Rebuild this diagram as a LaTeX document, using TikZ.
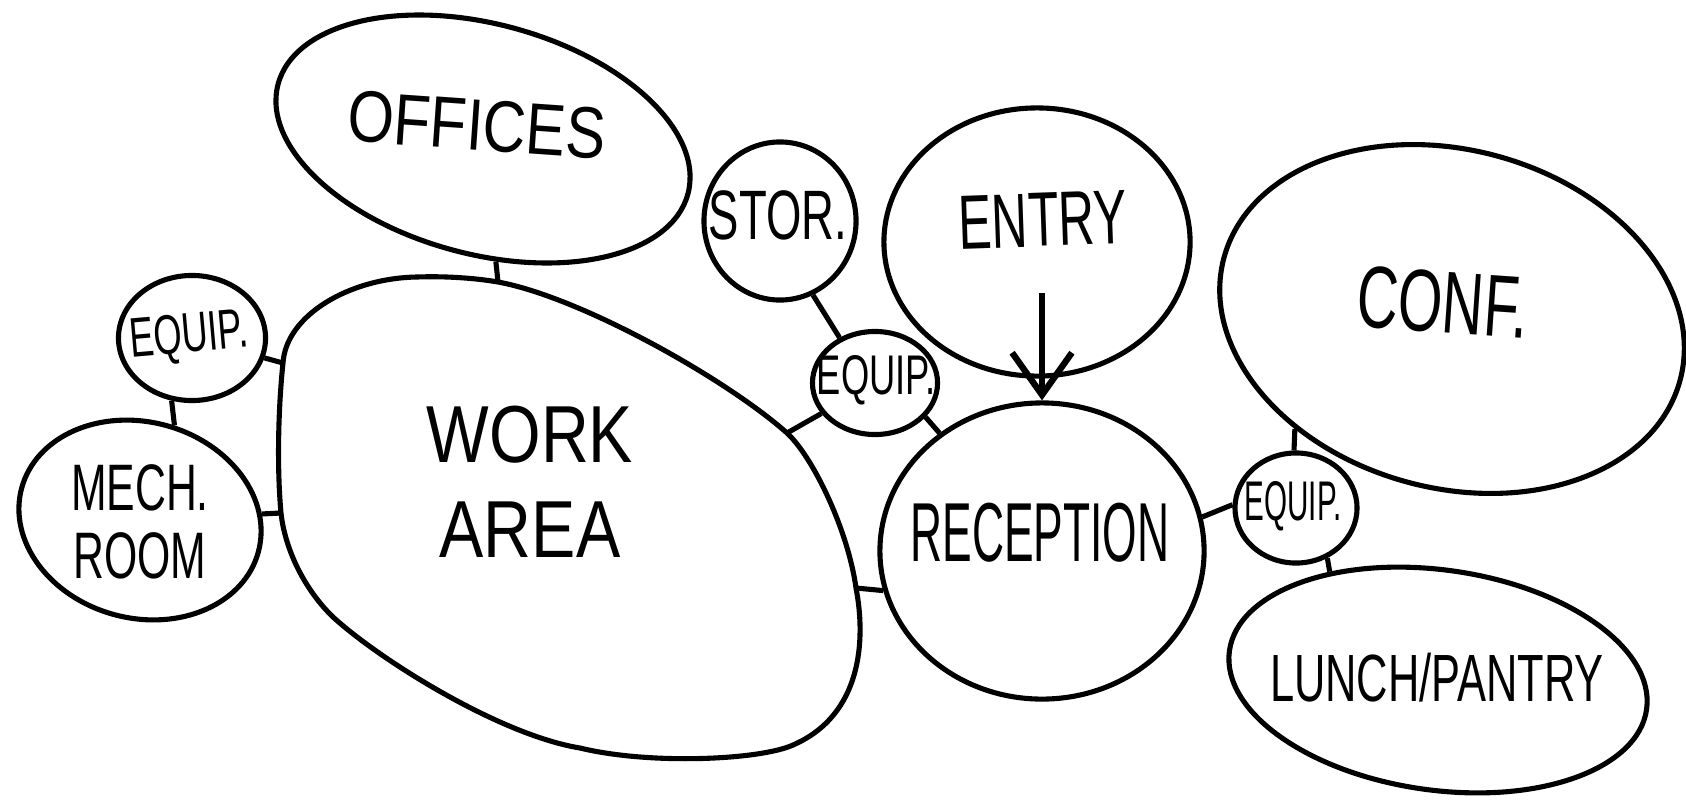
\documentclass[tikz,border=0pt]{standalone}
\usepackage{fontspec}
\newfontfamily\handfont[FakeStretch=0.65]{Liberation Sans}
\newfontfamily\handwide[FakeStretch=0.82]{Liberation Sans}
\newfontfamily\handslim[FakeStretch=0.53]{Liberation Sans}
\usetikzlibrary{shapes.geometric, arrows.meta}

\begin{document}
\begin{tikzpicture}[
    x=0.01cm,
    y=-0.01cm,
    room/.style={draw, ellipse, line width=1.45pt, inner sep=0pt},
    link/.style={line width=1.45pt},
    tag/.style={align=center, inner sep=0pt},
    ]

% Sheet
\fill[white] (0,0) rectangle (1686,800);
\useasboundingbox (0,0) rectangle (1686,800);

% Rooms
\node[room, minimum width=4.24cm, minimum height=2.30cm, rotate=-15] (offices) at (483,139) {};
\node[room, minimum width=1.47cm, minimum height=1.25cm] (equipL) at (192,338) {};
\node[room, minimum width=2.45cm, minimum height=1.96cm, rotate=-15] (mech) at (140,520) {};
\node[room, minimum width=1.52cm, minimum height=1.58cm] (stor) at (780,221) {};
\node[room, minimum width=1.25cm, minimum height=1.03cm] (equipM) at (875,383) {};
\node[room, minimum width=3.06cm, minimum height=2.68cm] (entry) at (1037,242) {};
\node[room, minimum width=3.24cm, minimum height=2.96cm] (recep) at (1042,551) {};
\node[room, minimum width=4.72cm, minimum height=3.38cm, rotate=-15] (conf) at (1452,319) {};
\node[room, minimum width=1.22cm, minimum height=1.10cm] (equipR) at (1296,508) {};
\node[room, minimum width=4.21cm, minimum height=2.20cm, rotate=-8] (lunch) at (1438,680) {};

% Work area outline, with the points where the links meet it
\coordinate (wk-off) at (498,282);
\coordinate (wk-eq1) at (283,363);
\coordinate (wk-mech) at (281,513);
\coordinate (wk-eq2) at (787,433);
\coordinate (wk-rec) at (856,588);
\draw[link, line join=round]
    (wk-mech) .. controls (277,470) and (278,410) .. (wk-eq1)
    .. controls (286,315) and (350,278) .. (417,277)
    .. controls (445,276) and (475,278) .. (wk-off)
    .. controls (580,297) and (725,378) .. (wk-eq2)
    .. controls (813,457) and (848,530) .. (wk-rec)
    .. controls (866,640) and (862,715) .. (793,745)
    .. controls (760,760) and (650,765) .. (580,748)
    .. controls (500,735) and (380,660) .. (333,617)
    .. controls (305,590) and (285,550) .. cycle;

% Labels
\node[tag, rotate=-4, font={\handwide\fontsize{20.7}{25}\selectfont}] (offices-t) at (477,125) {OFFICES};
\node[tag, font={\handwide\fontsize{23}{27}\selectfont}] (work) at (530,482) {WORK\\AREA};
\node[tag, rotate=5, font={\handfont\fontsize{15.9}{19}\selectfont}] (equipL-t) at (189,338) {EQUIP.};
\node[tag, font={\handfont\fontsize{18.7}{19.5}\selectfont}] (mech-t) at (140,522) {MECH.\\ROOM};
\node[tag, font={\handfont\fontsize{19.9}{24}\selectfont}] (stor-t) at (778,215) {STOR.};
\node[tag, font={\handfont\fontsize{15.9}{19}\selectfont}] (equipM-t) at (876,380) {EQUIP.};
\node[tag, rotate=2, font={\handfont\fontsize{21.9}{26}\selectfont}] (entry-t) at (1043,220) {ENTRY};
\node[tag, font={\handslim\fontsize{23.8}{28}\selectfont}] (recep-t) at (1040,533) {RECEPTION};
\node[tag, rotate=-4, font={\handfont\fontsize{25}{30}\selectfont}] (conf-t) at (1443,302) {CONF.};
\node[tag, font={\handslim\fontsize{15.9}{19}\selectfont}] (equipR-t) at (1293,506) {EQUIP.};
\node[tag, font={\handfont\fontsize{19}{23}\selectfont}] (lunch-t) at (1437,678) {LUNCH/PANTRY};

% Links
\draw[link] (offices) -- (wk-off);
\draw[link] (equipL) -- (wk-eq1);
\draw[link] (mech) -- (wk-mech);
\draw[link] (equipL.252) -- (mech.85);
\draw[link] (stor.-66) -- (equipM.128);
\draw[link] (equipM) -- (wk-eq2);
\draw[link] (equipM.-34) -- (recep.131);
\draw[link] (recep.194) -- (wk-rec);
\draw[link] (recep.12) -- (equipR.177);
\draw[link] (equipR.92) -- (conf.230);
\draw[link] (equipR.-58) -- (lunch.143);

% Way in
\coordinate (door) at (1042,293);
\draw[
    line width=1.8pt,
    -{Straight Barb[length=12pt, width=17pt]},
    ]
    (door) -- (recep);

\end{tikzpicture}
\end{document}
